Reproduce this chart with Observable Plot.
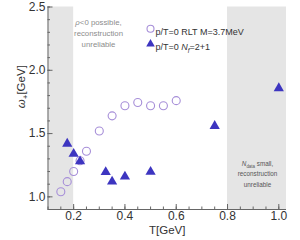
<!DOCTYPE html>
<html><head><meta charset="utf-8">
<script src="https://cdn.jsdelivr.net/npm/d3@7"></script>
<script src="https://cdn.jsdelivr.net/npm/@observablehq/plot@0.6"></script>
<style>body{margin:0;background:#fff}#c{width:300px;height:240px}</style>
</head><body><div id="c"></div>
<script>
// Series 1: p/T=0 RLT M=3.7MeV (open circles)
const rltT = [0.15, 0.175, 0.2, 0.225, 0.25, 0.3, 0.35, 0.4, 0.45, 0.5, 0.55, 0.6];
const rltW = [1.04, 1.12, 1.2, 1.285, 1.36, 1.52, 1.64, 1.72, 1.745, 1.72, 1.72, 1.76];
// Series 2: p/T=0 Nf=2+1 (filled triangles)
const nfT = [0.175, 0.2, 0.225, 0.325, 0.35, 0.4, 0.5, 0.75, 1.0];
const nfW = [1.42, 1.34, 1.28, 1.195, 1.12, 1.16, 1.197, 1.56, 1.858];
const seriesNames = ["p/T=0 RLT M=3.7MeV", "p/T=0 N_f=2+1"];
const xTicks = [0.2, 0.4, 0.6, 0.8, 1.0];
const yTicks = [1.0, 1.5, 2.0, 2.5];
const bandStart = [0.1, 0.8];
const bandEnd = [0.2, 1.03];
const notes = ["ρ<0 possible,\nreconstruction\nunreliable", "N_data small,\nreconstruction\nunreliable"];
const xLabel = "T[GeV]";
const yLabel = "ω+[GeV]";

const xDomain = [0.1, 1.03], yDomain = [0.9, 2.5];
const rlt = rltT.map((t, i) => ({t, w: rltW[i]}));
const nf = nfT.map((t, i) => ({t, w: nfW[i]}));
const bands = bandStart.map((a, i) => ({a, b: bandEnd[i]}));
const xMinor = d3.range(2, 21).map(k => k * 0.05);
const yMinor = d3.range(9, 26).map(k => k * 0.1);
const circ = "#a68ed8", tri = "#3d35c0", axc = "#666";

const plot = Plot.plot({
  width: 300, height: 240,
  marginLeft: 47.5, marginRight: 14, marginTop: 6.5, marginBottom: 31,
  x: {domain: xDomain}, y: {domain: yDomain},
  style: {fontFamily: "'Liberation Sans', Arial, sans-serif", background: "#fff"},
  marks: [
    Plot.rect(bands, {x1: "a", x2: "b", fill: "#e5e5e5"}),
    Plot.text([notes[0]], {x: () => 0.297, y: () => 2.301, text: d => d, fontSize: 7.8, lineHeight: 1.41, fill: "#8c8c8c"}),
    Plot.text([notes[1]], {x: () => 0.917, y: () => 1.188, text: d => d, fontSize: 6.3, lineHeight: 1.7, fill: "#555"}),
    Plot.axisX({ticks: xMinor, tickSize: -2.5, tickFormat: () => "", stroke: axc, label: null}),
    Plot.axisX({ticks: xTicks, tickSize: -5, tickPadding: 7, tickFormat: d3.format(".1f"), fontSize: 12, color: "#333", stroke: axc, label: null}),
    Plot.axisY({ticks: yMinor, tickSize: -2.5, tickFormat: () => "", stroke: axc, label: null}),
    Plot.axisY({ticks: yTicks, tickSize: -5, tickPadding: 7.5, tickFormat: d3.format(".1f"), fontSize: 12, color: "#333", stroke: axc, label: null}),
    Plot.ruleX([xDomain[0]], {stroke: axc}),
    Plot.ruleY([yDomain[0]], {stroke: axc}),
    Plot.dot(rlt, {x: "t", y: "w", r: 4, stroke: circ, strokeWidth: 1.1, fill: "none"}),
    Plot.dot(nf, {x: "t", y: "w", symbol: "triangle", r: 3.8, fill: tri, stroke: "none"}),
    // legend
    Plot.dot([seriesNames[0]], {x: null, y: null, frameAnchor: "top-left", dx: 102.5, dy: 21.7, r: 3.5, stroke: circ, strokeWidth: 1.1, fill: "none"}),
    Plot.dot([seriesNames[1]], {x: null, y: null, frameAnchor: "top-left", dx: 102.5, dy: 37, symbol: "triangle", r: 3.2, fill: tri, stroke: "none"}),
    Plot.text([seriesNames[0]], {x: null, y: null, text: d => d, frameAnchor: "top-left", dx: 107.5, dy: 21.7, textAnchor: "start", fontSize: 9, fill: "#333"}),
    Plot.text([seriesNames[1]], {x: null, y: null, text: d => d, frameAnchor: "top-left", dx: 107.5, dy: 37, textAnchor: "start", fontSize: 9, fill: "#333"}),
    // axis labels
    Plot.text([xLabel], {x: null, y: null, text: d => d, frameAnchor: "bottom", dy: 24, fontSize: 11.5, fill: "#333"}),
    Plot.text([yLabel], {x: null, y: null, text: d => d, frameAnchor: "left", dx: -27, rotate: -90, fontSize: 11.5, fill: "#333"})
  ]
});
document.getElementById("c").appendChild(plot);

// rich text: italics and subscripts
const RICH = {
  "p/T=0 N_f=2+1": [["p/T=0 "], ["N", "i"], ["f", "is"], ["=2+1"]],
  "N_data small,": [["N", "i"], ["data", "s"], [" small,"]],
  "ρ<0 possible,": [["ρ", "i"], ["<0 possible,"]],
  "ω+[GeV]": [["ω", "i"], ["+", "s"], ["[GeV]"]]
};
d3.select(plot).selectAll("text, tspan").each(function () {
  if (this.childNodes.length !== 1 || this.firstChild.nodeType !== 3) return;
  const segs = RICH[this.textContent];
  if (!segs) return;
  const s = d3.select(this);
  const fs = parseFloat(getComputedStyle(this).fontSize) || 10;
  s.text(null);
  let shifted = false;
  segs.forEach(([t, f = ""]) => {
    const sp = s.append("tspan").text(t);
    if (f.includes("i")) sp.attr("font-style", "italic");
    const sub = f.includes("s");
    if (sub) sp.attr("font-size", (fs * 0.7) + "px");
    if (sub && !shifted) { sp.attr("dy", fs * 0.28); shifted = true; }
    else if (!sub && shifted) { sp.attr("dy", -fs * 0.28); shifted = false; }
  });
});
</script>
</body></html>
